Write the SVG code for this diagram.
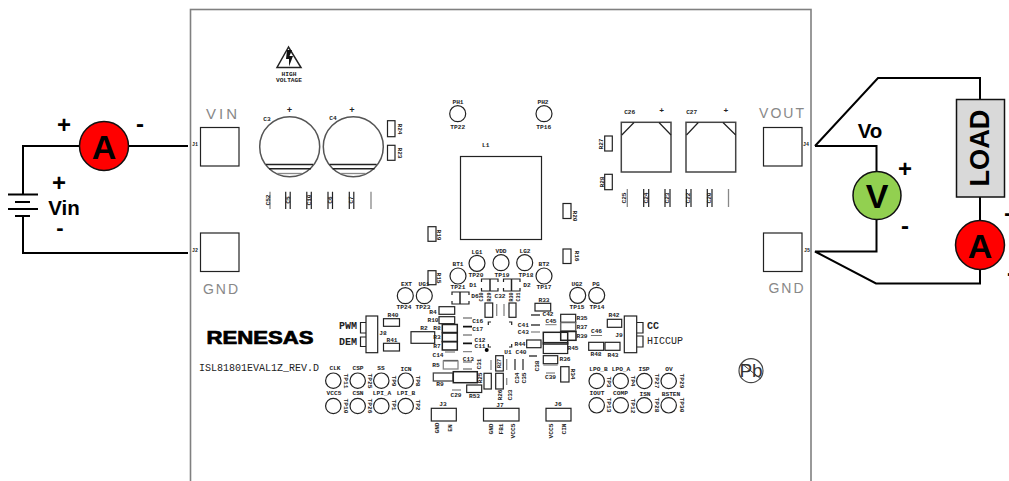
<svg xmlns="http://www.w3.org/2000/svg" width="1009" height="481" viewBox="0 0 1009 481">
<style>
text{font-family:"Liberation Sans",Arial,sans-serif;text-anchor:middle;dominant-baseline:central}
.l{font-family:"Liberation Mono","DejaVu Sans Mono",monospace;font-size:6.2px;fill:#222;font-weight:700}
.m{font-family:"Liberation Mono","DejaVu Sans Mono",monospace;font-size:10px;fill:#222}
.v{font-size:14px;fill:#888;letter-spacing:2px}
.b{font-weight:700;fill:#000}
.k{fill:none;stroke:#222;stroke-width:1.2}
.w{fill:#fff;stroke:#222;stroke-width:1.2}
.t{fill:none;stroke:#222;stroke-width:1.5}
.g{fill:none;stroke:#888;stroke-width:1.3}
.e{fill:none;stroke:#111;stroke-width:1.5}
.f{fill:none;stroke:#000;stroke-width:2}
</style>

<g id="board"><rect x="190.5" y="9.5" width="620.5" height="480" fill="#fff" stroke="#808080" stroke-width="1.6"/></g>

<g id="connectors">
<path class="f" d="M188 146H23V194M23 216V253H188"/>
<path class="f" d="M815 146L878 78H980V100M815 146H876.500V172M876.500 220V251.500H815L876 283.500H980V270M980 197V221"/>
</g>

<g id="battery" class="f"><path d="M8 194.500H38M15 202H30M8 209H38M15 216H30"/></g>
<g id="ammeter-in"><circle cx="104" cy="146" r="24.500" fill="#f00" stroke="#111" stroke-width="1.500"/><text x="104" y="147" class="b" font-size="34">A</text></g>
<g id="labels-in">
<text x="64" y="124" class="b" font-size="24">+</text><text x="140" y="123" class="b" font-size="24">-</text>
<text x="59" y="182" class="b" font-size="24">+</text><text x="64" y="207" class="b" font-size="20.500">Vin</text><text x="60" y="227" class="b" font-size="22">-</text>
</g>
<g id="load"><rect x="956.500" y="99.500" width="48" height="97.500" fill="#d9d9d9" stroke="#111" stroke-width="1.500"/><text transform="translate(979 148) rotate(-90)" class="b" font-size="28" textLength="77" lengthAdjust="spacingAndGlyphs">LOAD</text></g>
<g id="ammeter-out"><circle cx="980" cy="245" r="24.500" fill="#f00" stroke="#111" stroke-width="1.500"/><text x="980" y="246" class="b" font-size="34">A</text></g>
<g id="voltmeter"><circle cx="877" cy="195.500" r="24" fill="#92d050" stroke="#111" stroke-width="1.500"/><text x="877" y="196" class="b" font-size="34">V</text></g>
<g id="labels-out">
<text x="870" y="130" class="b" font-size="20.500">Vo</text><text x="905" y="168" class="b" font-size="24">+</text><text x="905" y="225" class="b" font-size="24">-</text>
<text x="1011" y="214" class="b" font-size="24">+</text><text x="1011" y="272" class="b" font-size="24">-</text>
</g>

<g id="pads">
<rect class="k" x="200.500" y="127.500" width="38.500" height="38.500"/><rect class="k" x="200.500" y="233" width="38.500" height="38.500"/>
<rect class="k" x="763.500" y="127.500" width="38.500" height="38.500"/><rect class="k" x="763.500" y="233" width="38.500" height="38.500"/>
<text x="223" y="113" class="v" style="font-size:15px;letter-spacing:3px">VIN</text><text x="221.500" y="289" class="v">GND</text>
<text x="782.500" y="113" class="v">VOUT</text><text x="787" y="288" class="v">GND</text>
<text x="195" y="145" class="l" style="font-size:5px">J1</text><text x="195" y="251" class="l" style="font-size:5px">J2</text><text x="806" y="145" class="l" style="font-size:5px">J4</text><text x="807" y="251" class="l" style="font-size:5px">J5</text>
</g>

<g id="hv-symbol"><path class="t" d="M288.500 47L277 67.500H301Z"/><path fill="#111" d="M287 50L292 50L289.500 56L293 56L289 66.500L289 59L286 59Z"/>
<text x="289" y="74.500" class="l">HIGH</text><text x="289" y="80.500" class="l">VOLTAGE</text></g>

<g id="C3"><circle class="e" cx="289.700" cy="146.700" r="30" style="stroke:#555"/><path class="t" d="M266 164.500H313M269 168.700H311"/><path class="g" d="M277 173.500H302"/><text x="289.500" y="111" class="l" style="font-size:9px">+</text><text x="267" y="119" class="l">C3</text></g>
<g id="C4"><circle class="e" cx="353.300" cy="146.700" r="30" style="stroke:#555"/><path class="t" d="M329.600 164.500H376.600M332.600 168.700H374.600"/><path class="g" d="M340.600 173.500H365.600"/><text x="352" y="111" class="l" style="font-size:9px">+</text><text x="333" y="118" class="l">C4</text></g>
<g id="R24"><rect class="k" x="387.500" y="120.700" width="7.500" height="16"/><text transform="translate(399 129) rotate(90)" class="l">R24</text></g>
<g id="R23"><rect class="k" x="387.500" y="145.300" width="7.500" height="15"/><text transform="translate(399 153) rotate(90)" class="l">R23</text></g>

<g id="input-caps">
<path class="g" d="M270 191.700V209"/><text transform="translate(268 200) rotate(-90)" class="l">C52</text>
<path class="k" d="M285.700 191.700V209M290.200 191.700V209M306.800 191.700V209M311.300 191.700V209M328 191.700V209M332.500 191.700V209M349.300 191.700V209M353.800 191.700V209"/><path class="g" d="M371 191.700V209"/>
<text transform="translate(288 200) rotate(-90)" class="l">C5</text><text transform="translate(309 200) rotate(-90)" class="l">C10</text><text transform="translate(330 200) rotate(-90)" class="l">C6</text><text transform="translate(351.500 200) rotate(-90)" class="l">C7</text>
</g>

<g id="TP22"><circle class="k" cx="457.700" cy="113.700" r="8"/><text x="458" y="102.500" class="l">PH1</text><text x="457.700" y="127.500" class="l">TP22</text></g>
<g id="TP16"><circle class="k" cx="544" cy="113.700" r="8"/><text x="543" y="102.500" class="l">PH2</text><text x="543.700" y="127.500" class="l">TP16</text></g>
<g id="L1"><rect class="k" x="460.500" y="156.500" width="81" height="83"/><text x="485.700" y="145" class="l">L1</text></g>

<g id="R20"><rect class="k" x="563" y="203.500" width="8" height="15"/><text transform="translate(574.500 216) rotate(90)" class="l">R20</text></g>
<g id="R16"><rect class="k" x="563" y="249" width="8" height="14.500"/><text transform="translate(576 256) rotate(90)" class="l">R16</text></g>
<g id="R19"><rect class="k" x="428" y="226.700" width="8" height="14.600"/><text transform="translate(438.500 235) rotate(90)" class="l">R19</text></g>
<g id="R15"><rect class="k" x="428" y="270.700" width="8" height="14"/><text transform="translate(438.500 278) rotate(90)" class="l">R15</text></g>

<g id="TP20"><circle class="k" cx="477" cy="263.300" r="8"/><text x="477" y="252.500" class="l">LG1</text><text x="476" y="275" class="l">TP20</text></g>
<g id="TP19"><circle class="k" cx="501" cy="262.700" r="8"/><text x="501" y="251.500" class="l">VDD</text><text x="502" y="275" class="l">TP19</text></g>
<g id="TP18"><circle class="k" cx="524.700" cy="262.700" r="8"/><text x="525" y="251.500" class="l">LG2</text><text x="526" y="275" class="l">TP18</text></g>
<g id="TP21"><circle class="k" cx="458" cy="276" r="8"/><text x="458" y="264.500" class="l">BT1</text><text x="458" y="287.500" class="l">TP21</text></g>
<g id="TP17"><circle class="k" cx="544" cy="276" r="8"/><text x="544" y="264.500" class="l">BT2</text><text x="544" y="287.500" class="l">TP17</text></g>
<g id="TP24"><circle class="k" cx="405.300" cy="295.700" r="8"/><text x="406.500" y="284.500" class="l">EXT</text><text x="404" y="307" class="l">TP24</text></g>
<g id="TP23"><circle class="k" cx="424.300" cy="295.700" r="8"/><text x="424" y="284.500" class="l">UG1</text><text x="423" y="307" class="l">TP23</text></g>
<g id="TP15"><circle class="k" cx="577.700" cy="295.300" r="8"/><text x="577" y="284" class="l">UG2</text><text x="577" y="307" class="l">TP15</text></g>
<g id="TP14"><circle class="k" cx="596.700" cy="295.300" r="8"/><text x="596" y="284" class="l">PG</text><text x="597" y="307" class="l">TP14</text></g>

<g id="D1"><path class="k" d="M481.500 282V279H498V282M481.500 288V291H498V288"/><path class="t" d="M490 279V291"/><text x="473" y="285" class="l">D1</text></g>
<g id="D2"><path class="k" d="M503.500 282V279H520V282M503.500 288V291H520V288"/><path class="t" d="M511.500 279V291"/><text x="527" y="285" class="l">D2</text></g>
<g id="D6"><path class="k" d="M452 295V292H469V295M452 301V304H469V301"/><path class="t" d="M460 292V304"/><text x="475" y="296" class="l">D6</text></g>

<g id="center-top">
<rect class="k" x="485" y="303" width="7.700" height="14.300"/><rect class="k" x="509" y="303" width="7" height="14.300"/>
<path class="g" d="M496.700 304V316M504 304V316"/>
<text transform="translate(482 297) rotate(-90)" class="l" style="font-size:5px">C30</text><text transform="translate(490 297) rotate(-90)" class="l" style="font-size:5px">R29</text><text x="500" y="296.500" class="l">C32</text><text transform="translate(511.500 297) rotate(-90)" class="l" style="font-size:5px">R30</text><text transform="translate(519 297) rotate(-90)" class="l" style="font-size:5px">C31</text>
</g>

<g id="U1"><path class="k" d="M491 322H488.300V325M509 322H511.700V325M488.300 344V347H491M511.700 344V347H509"/><circle cx="486.700" cy="350" r="2" fill="#000"/><text x="508" y="352" class="l">U1</text></g>

<g id="left-stack">
<rect class="k" x="439" y="306.700" width="15.700" height="7.600"/><text x="433" y="312" class="l">R4</text>
<rect class="k" x="439" y="316.700" width="15.700" height="7"/><text x="433" y="320.500" class="l">R10</text>
<rect class="t" x="442.300" y="324.500" width="15" height="8"/><text x="437" y="328" class="l">R8</text>
<rect class="t" x="442.300" y="333" width="15" height="8.500"/><text x="437" y="337" class="l">R3</text>
<rect class="t" x="442.300" y="341.700" width="15" height="8.300"/><text x="437" y="346.500" class="l">R7</text>
<path class="g" d="M445 352H455"/>
<rect class="k" x="411" y="331.700" width="23.700" height="11.600"/><text x="424" y="328" class="l">R2</text>
<path class="g" d="M463 318H472M463 335H472M463 351.700H472"/><path d="M463 326.700H472M463 343.300H472" stroke="#111" stroke-width="1.700"/>
<text x="477.700" y="321.700" class="l">C16</text><text x="477.700" y="329" class="l">C17</text><text x="480" y="340.700" class="l">C12</text><text x="480" y="346.500" class="l">C11</text>
<text x="438" y="355" class="l">C14</text>
<path class="k" d="M443.300 360.500H458"/><rect class="g" x="443.300" y="361" width="14.700" height="8"/><text x="436" y="365" class="l">R5</text>
<text x="468.300" y="359.300" class="l">C13</text><path class="g" d="M463 362H472M463 369H472"/>
<rect class="g" x="433.300" y="373" width="19.700" height="8" style="stroke:#444"/><text x="440" y="384.500" class="l">R9</text>
<rect class="t" x="453.300" y="371.700" width="24" height="11"/>
<path class="g" d="M452 390H461"/><text x="456" y="395" class="l">C29</text>
<rect class="k" x="466.700" y="385" width="15" height="7.500"/><text x="474.500" y="396" class="l">R53</text>
</g>

<g id="center-bottom">
<text transform="translate(479 364) rotate(-90)" class="l">C31</text><text transform="translate(480 378) rotate(-90)" class="l">R25</text>
<rect class="k" x="484" y="373.300" width="7.300" height="15.700"/>
<rect class="k" x="495.700" y="355.700" width="7.600" height="15.300"/><rect class="k" x="495.700" y="373.300" width="7.600" height="15.700"/>
<text transform="translate(499.500 363.500) rotate(-90)" class="l" style="font-size:5px">R27</text><text transform="translate(500 395) rotate(-90)" class="l">R26</text>
<path class="g" d="M491 360V370M506.700 359V370M506.700 378V385"/><path class="k" d="M515 359V370"/><path class="k" d="M523 359V370"/>
<text transform="translate(510.700 395) rotate(-90)" class="l">C33</text><text transform="translate(517 378) rotate(-90)" class="l">C34</text><text transform="translate(524.600 378) rotate(-90)" class="l">C35</text>
</g>

<g id="right-stack">
<rect class="k" x="535" y="303.300" width="15.700" height="7.700"/><text x="544" y="300.500" class="l">R33</text>
<text x="548" y="314" class="l">C42</text><path d="M531 315H540" stroke="#111" stroke-width="1.200"/>
<text x="551" y="321" class="l" style="text-decoration:underline">C45</text>
<path d="M531 325H540" stroke="#111" stroke-width="1.200"/><path class="g" d="M531 332H540"/>
<text x="523.300" y="325.300" class="l">C41</text><text x="523.300" y="332" class="l">C43</text>
<rect class="k" x="560.700" y="314.300" width="15" height="8"/><text x="582" y="318" class="l">R35</text>
<rect class="t" x="560.700" y="322.500" width="15" height="8.500" style="stroke:#666"/><text x="582" y="327" class="l">R37</text>
<rect class="t" x="560.700" y="331.500" width="15.300" height="8.800"/><text x="582" y="336" class="l">R39</text>
<rect class="t" x="543.300" y="332.300" width="24.400" height="11.700"/>
<rect class="k" x="543.300" y="342.500" width="24.400" height="11"/><text x="573" y="348" class="l">R45</text>
<rect class="k" x="526.700" y="340" width="14.300" height="7.700"/><text x="520" y="344" class="l">R44</text><text x="521" y="352" class="l">C40</text>
<path d="M529 356H537" stroke="#111" stroke-width="1.200"/>
<rect class="k" x="543.300" y="355.700" width="14.400" height="8"/><path class="g" d="M543.300 365H557.700"/><text x="565" y="359" class="l">R36</text>
<text transform="translate(537 366) rotate(-90)" class="l">C38</text>
<path class="g" d="M546 373H555"/><text x="550.500" y="377" class="l">C39</text>
<rect class="k" x="560.700" y="366.700" width="8.300" height="15.300"/><text transform="translate(572 374) rotate(90)" class="l">R34</text>
</g>

<g id="C46"><text x="596.500" y="331.500" class="l" style="text-decoration:underline">C46</text></g>
<g id="R48"><rect class="k" x="588.700" y="342.300" width="15" height="8"/><text x="596" y="354" class="l">R48</text></g>
<g id="R43"><rect class="k" x="605" y="342.300" width="15" height="8"/><text x="613" y="355" class="l">R43</text></g>
<g id="R42"><rect class="k" x="607.300" y="319.300" width="14.400" height="8"/><text x="614" y="315.500" class="l">R42</text></g>
<g id="J9"><rect class="k" x="624.300" y="316" width="12.400" height="36.700"/><path class="k" d="M637 322.500H643V333H637M637 336H643V347H637"/><text x="619" y="335" class="l">J9</text><text x="647" y="326.500" class="m" style="text-anchor:start;font-weight:700">CC</text><text x="647" y="341" class="m" style="text-anchor:start">HICCUP</text></g>
<g id="J8"><rect class="k" x="366" y="316" width="11.700" height="36.700"/><path class="k" d="M366 322.500H360.500V333H366M366 337H360.500V346.500H366"/><text x="383" y="333" class="l">J8</text><text x="339" y="326" class="m" style="text-anchor:start;font-weight:700">PWM</text><text x="339" y="342" class="m" style="text-anchor:start;font-weight:700">DEM</text></g>
<g id="R40"><rect class="k" x="383.500" y="318.700" width="16" height="7.600"/><text x="393" y="315.500" class="l">R40</text></g>
<g id="R41"><rect class="k" x="383.500" y="343.300" width="16" height="7.700"/><text x="392" y="340" class="l">R41</text></g>

<g id="renesas-logo"><text x="260" y="337.500" font-size="17.500" font-weight="700" fill="#000" stroke="#000" stroke-width=".7" textLength="107" lengthAdjust="spacingAndGlyphs">RENESAS</text></g>
<g id="board-name"><text x="259" y="368" class="m">ISL81801EVAL1Z_REV.D</text></g>

<g id="tp-left">
<circle class="k" cx="333.300" cy="380.700" r="7.700"/><circle class="k" cx="357.700" cy="380.700" r="7.700"/><circle class="k" cx="381.300" cy="380.700" r="7.700"/><circle class="k" cx="405.700" cy="380.700" r="7.700"/>
<circle class="k" cx="333.300" cy="406" r="7.700"/><circle class="k" cx="357.700" cy="406" r="7.700"/><circle class="k" cx="381.300" cy="406" r="7.700"/><circle class="k" cx="405.700" cy="406" r="7.700"/>
<text x="335" y="368.500" class="l">CLK</text><text x="358" y="368.500" class="l">CSP</text><text x="381" y="368.500" class="l">SS</text><text x="406" y="369.500" class="l">ICN</text>
<text x="334" y="393.500" class="l">VCC5</text><text x="358" y="393.500" class="l">CSN</text><text x="382" y="393.500" class="l">LPI_A</text><text x="406" y="393.500" class="l">LPI_B</text>
<text transform="translate(345 381) rotate(90)" class="l">TP11</text><text transform="translate(369 381) rotate(90)" class="l">TP25</text><text transform="translate(393 381) rotate(90)" class="l">TP9</text><text transform="translate(417 381) rotate(90)" class="l">TP8</text>
<text transform="translate(345 406) rotate(90)" class="l">TP10</text><text transform="translate(369 406) rotate(90)" class="l">TP26</text><text transform="translate(393 405) rotate(90)" class="l">TP1</text><text transform="translate(417 405) rotate(90)" class="l">TP2</text>
</g>

<g id="tp-right">
<circle class="k" cx="596.700" cy="381" r="7.700"/><circle class="k" cx="620.700" cy="381" r="7.700"/><circle class="k" cx="644.300" cy="381" r="7.700"/><circle class="k" cx="668.700" cy="381" r="7.700"/>
<circle class="k" cx="596.700" cy="405.300" r="7.700"/><circle class="k" cx="620.700" cy="405.300" r="7.700"/><circle class="k" cx="644.300" cy="405.300" r="7.700"/><circle class="k" cx="668.700" cy="405.300" r="7.700"/>
<text x="598.500" y="369.500" class="l">LPO_B</text><text x="621" y="369.500" class="l">LPO_A</text><text x="644" y="369" class="l">ISP</text><text x="669" y="369.500" class="l">OV</text>
<text x="597" y="393.500" class="l">IOUT</text><text x="620.500" y="393" class="l">COMP</text><text x="645" y="394" class="l">ISN</text><text x="671" y="394" class="l">BSTEN</text>
<text transform="translate(608 382) rotate(90)" class="l">TP3</text><text transform="translate(632 381) rotate(90)" class="l">TP4</text><text transform="translate(656 381) rotate(90)" class="l">TP27</text><text transform="translate(681 381) rotate(90)" class="l">TP29</text>
<text transform="translate(608 405) rotate(90)" class="l">TP13</text><text transform="translate(632 406) rotate(90)" class="l">TP12</text><text transform="translate(656 405) rotate(90)" class="l">TP28</text><text transform="translate(681 405) rotate(90)" class="l">TP30</text>
</g>

<g id="pb-symbol"><circle cx="751" cy="370.700" r="12" fill="none" stroke="#444" stroke-width="1.200"/><path d="M741 363L761 379" stroke="#444" stroke-width="1"/><text x="751" y="370" font-size="19" fill="#333">Pb</text></g>

<g id="J3"><rect class="k" x="431.300" y="408.300" width="25" height="12.700"/><text x="443" y="404.500" class="l">J3</text><text transform="translate(437 428) rotate(-90)" class="l">GND</text><text transform="translate(450 428) rotate(-90)" class="l">EN</text></g>
<g id="J7"><rect class="k" x="483.500" y="408.300" width="35.500" height="12.700"/><text x="500" y="405" class="l">J7</text><text transform="translate(491 429) rotate(-90)" class="l">GND</text><text transform="translate(501 429) rotate(-90)" class="l">FB1</text><text transform="translate(513 431) rotate(-90)" class="l">VCC5</text></g>
<g id="J6"><rect class="k" x="546" y="408.300" width="25" height="12.700"/><text x="558" y="404.500" class="l">J6</text><text transform="translate(551 431) rotate(-90)" class="l">VCC5</text><text transform="translate(564 429) rotate(-90)" class="l">CIN</text></g>

<g id="C26"><rect class="t" x="621.300" y="122.300" width="49.700" height="49.700" style="stroke:#444"/><path class="k" d="M634 122.500L621.800 135M659 122.500L671 135"/><text x="629.700" y="112" class="l">C26</text><text x="661.700" y="110" class="l" style="font-size:8px">+</text></g>
<g id="C27"><rect class="t" x="686" y="122.300" width="49.700" height="49.700" style="stroke:#444"/><path class="k" d="M698.300 122.500L686.500 135M723 122.500L735.700 135"/><text x="691.700" y="112.500" class="l">C27</text><text x="726" y="110" class="l" style="font-size:8px">+</text></g>
<g id="R27"><rect class="k" x="604.700" y="136" width="7.600" height="15"/><text transform="translate(601 144) rotate(-90)" class="l">R27</text></g>
<g id="R28"><rect class="k" x="604.700" y="174.300" width="7.600" height="15.400"/><text transform="translate(602 182) rotate(-90)" class="l">R28</text></g>

<g id="output-caps">
<path class="g" d="M627.300 189V207M728.500 189V207"/>
<path class="k" d="M643.700 189V207M648.700 189V207M665 189V207M670 189V207M686.300 189V207M691 189V207M707.300 189V207M712 189V207"/>
<text transform="translate(624 198) rotate(-90)" class="l">C25</text><text transform="translate(646 198) rotate(-90)" class="l">C24</text><text transform="translate(667.500 198) rotate(-90)" class="l">C23</text><text transform="translate(688.700 198) rotate(-90)" class="l">C22</text><text transform="translate(709.700 198) rotate(-90)" class="l">C20</text>
</g>
</svg>
